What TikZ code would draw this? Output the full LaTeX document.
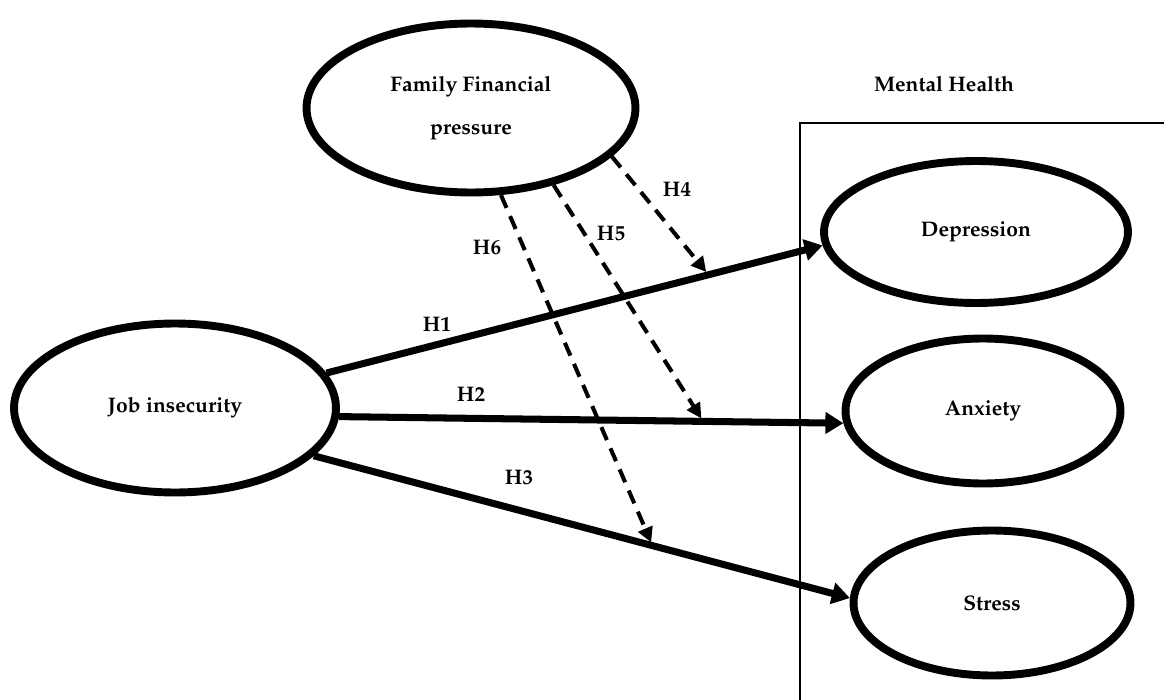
\documentclass[tikz,border=0pt]{standalone}
\usepackage[T1]{fontenc}
\usepackage{mathpazo}
\usepackage{tikz}
\usetikzlibrary{shapes,arrows.meta}

\tikzset{
    construct/.style={draw, ellipse, line width=4.5pt, inner sep=0pt, align=center,
        font=\fontsize{12}{24}\selectfont\bfseries},
    hyp/.style={line width=4pt, -{Triangle[length=0.36cm, width=0.42cm]}},
    moder/.style={line width=2.3pt, dash pattern=on 0.28cm off 0.18cm, shorten >=2pt,
        -{Triangle[length=0.3cm, width=0.3cm]}},
    hlabel/.style={font=\fontsize{12}{14}\selectfont\bfseries}
}

\begin{document}
\begin{tikzpicture}[x=0.02cm, y=-0.02cm]
    \useasboundingbox (0,0) rectangle (1164,700);

    % Constructs
    \node [construct, minimum width=6.58cm, minimum height=3.38cm] (ffp) at (471,108) {Family Financial\\pressure};
    \node [construct, minimum width=6.44cm, minimum height=3.38cm] (job) at (175,408) {Job insecurity};
    \node [construct, minimum width=6.08cm, minimum height=2.84cm] (dep) at (976,232) {Depression};
    \node [construct, minimum width=5.5cm, minimum height=2.9cm] (anx) at (983,411) {Anxiety};
    \node [construct, minimum width=5.54cm, minimum height=2.9cm] (str) at (992,603) {Stress};

    % Mental health box
    \draw [line width=1.4pt] (1164,123) -- (800,123) -- (800,700);
    \node [hlabel] (mh) at (944,84) {Mental Health};

    % Direct paths
    \draw [hyp] (job.13) -- coordinate[pos=0.77] (h4end) (dep.185);
    \draw [hyp] (job.-3) -- coordinate[pos=0.722] (h5end) (anx.185);
    \draw [hyp] (job.-19) -- coordinate[pos=0.632] (h6end) (str.178);

    % Moderation paths
    \draw [moder] (ffp.-19) -- (h4end);
    \draw [moder] (ffp.-43) -- (h5end);
    \draw [moder] (ffp.-71) -- (h6end);

    % Labels
    \node [hlabel] (h1) at (437,325) {H1};
    \node [hlabel] (h2) at (471,395) {H2};
    \node [hlabel] (h3) at (519,478) {H3};
    \node [hlabel] (h4) at (677,190) {H4};
    \node [hlabel] (h5) at (611,234) {H5};
    \node [hlabel] (h6) at (487,248) {H6};
\end{tikzpicture}
\end{document}
